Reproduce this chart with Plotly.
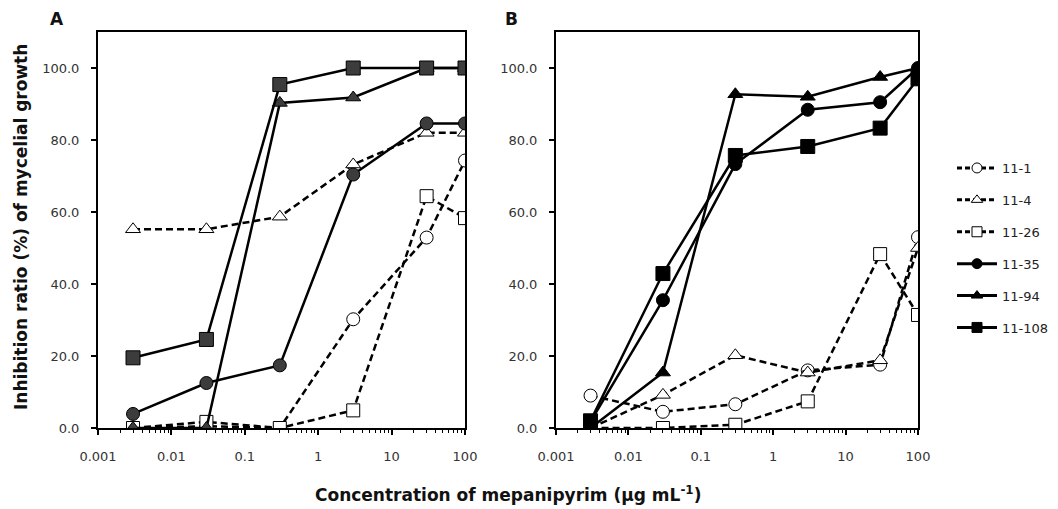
import plotly.graph_objects as go

conc = [0.003, 0.03, 0.3, 3, 30, 100]
names = ["11-1", "11-4", "11-26", "11-35", "11-94", "11-108"]

# Panel A
a_11_1 = [0.0, 0.5, 0.0, 30.2, 52.9, 74.3]
a_11_4 = [55.2, 55.2, 58.7, 73.2, 82.0, 82.0]
a_11_26 = [0.0, 1.7, 0.0, 4.9, 64.4, 58.3]
a_11_35 = [3.9, 12.5, 17.4, 70.4, 84.6, 84.6]
a_11_94 = [0.0, 0.0, 90.3, 91.8, 100.0, 100.0]
a_11_108 = [19.5, 24.6, 95.4, 100.0, 100.0, 100.0]

# Panel B
b_11_1 = [9.0, 4.5, 6.6, 16.0, 17.6, 53.0]
b_11_4 = [0.0, 9.2, 20.2, 15.4, 18.8, 50.0]
b_11_26 = [0.0, 0.0, 0.9, 7.4, 48.3, 31.4]
b_11_35 = [1.8, 35.5, 73.3, 88.4, 90.5, 100.0]
b_11_94 = [0.0, 15.4, 92.7, 92.0, 97.5, 100.0]
b_11_108 = [2.0, 42.9, 75.7, 78.2, 83.3, 97.0]

yticks = [0, 20, 40, 60, 80, 100]
yticktext = ["0.0", "20.0", "40.0", "60.0", "80.0", "100.0"]
xticks = [0.001, 0.01, 0.1, 1, 10, 100]
xticktext = ["0.001", "0.01", "0.1", "1", "10", "100"]

TICKFONT = "DejaVu Sans"
TITLEFONT = "DejaVu Sans"

styles = {
    "11-1": dict(symbol="circle", open=True, dash="7px,4px", size=13),
    "11-4": dict(symbol="triangle-up", open=True, dash="7px,4px", size=13),
    "11-26": dict(symbol="square", open=True, dash="7px,4px", size=13),
    "11-35": dict(symbol="circle", open=False, dash="solid", size=13),
    "11-94": dict(symbol="triangle-up", open=False, dash="solid", size=13),
    "11-108": dict(symbol="square", open=False, dash="solid", size=14),
}

fig = go.Figure()

panelA = [a_11_1, a_11_4, a_11_26, a_11_35, a_11_94, a_11_108]
panelB = [b_11_1, b_11_4, b_11_26, b_11_35, b_11_94, b_11_108]

for name, ys in zip(names, panelA):
    st = styles[name]
    fill = "white" if st["open"] else "#3c3c3c"
    fig.add_trace(go.Scatter(
        x=conc, y=ys, mode="lines+markers", name=name, showlegend=False,
        line=dict(color="black", width=2.5, dash=st["dash"]),
        marker=dict(symbol=st["symbol"], size=st["size"], color=fill,
                    line=dict(color="black", width=1)),
        xaxis="x", yaxis="y", legendgroup=name,
    ))

for name, ys in zip(names, panelB):
    st = styles[name]
    fill = "white" if st["open"] else "black"
    fig.add_trace(go.Scatter(
        x=conc, y=ys, mode="lines+markers", name=name, showlegend=False,
        line=dict(color="black", width=2.5, dash=st["dash"]),
        marker=dict(symbol=st["symbol"], size=st["size"], color=fill,
                    line=dict(color="black", width=1)),
        xaxis="x2", yaxis="y2", legendgroup=name,
    ))

# legend entries (smaller symbols, as in the reference key)
for name in names:
    st = styles[name]
    fill = "white" if st["open"] else "black"
    fig.add_trace(go.Scatter(
        x=[None], y=[None], mode="lines+markers", name=name, showlegend=True,
        line=dict(color="black", width=3, dash="5px,3px" if st["open"] else "solid"),
        marker=dict(symbol=st["symbol"], size=10, color=fill,
                    line=dict(color="black", width=1)),
        xaxis="x2", yaxis="y2", legendgroup=name,
    ))

OFF = 8  # page body margin
W, H = 1058 - OFF, 509 - OFF
L, R, T, B = 98, 918, 32, 428  # plot-area edges in page pixels
PW, PH = R - L, B - T

def px(x):
    return (x - L) / PW

def py(y):
    return (B - y) / PH

def xax(domain, anchor):
    return dict(
        type="log", domain=domain, anchor=anchor, range=[-3, 2.0],
        tickvals=xticks, ticktext=xticktext,
        ticks="outside", ticklen=5, tickwidth=1.5, tickcolor="black",
        showline=True, linecolor="black", linewidth=2, mirror=True,
        showgrid=False, zeroline=False, automargin=False,
        ticklabelstandoff=10,
        minor=dict(ticks="outside", ticklen=3, tickwidth=1, tickcolor="black",
                   dtick="D1", showgrid=False),
        tickfont=dict(family=TICKFONT, size=13, color="#333"),
    )

def yax(anchor):
    return dict(
        domain=[0, 1], anchor=anchor, range=[0, 110],
        tickvals=yticks, ticktext=yticktext,
        ticks="outside", ticklen=5, tickwidth=1.5, tickcolor="black",
        showline=True, linecolor="black", linewidth=2, mirror=True,
        showgrid=False, zeroline=False, automargin=False,
        ticklabelstandoff=9,
        tickfont=dict(family=TICKFONT, size=13, color="#333"),
    )

def ann(text, x, y, size, angle=0):
    return dict(text=text, x=px(x), y=py(y), xref="paper", yref="paper",
                xanchor="center", yanchor="middle", textangle=angle,
                showarrow=False, font=dict(family=TITLEFONT, size=size, color="#111"))

fig.update_layout(
    width=W, height=H,
    margin=dict(l=L - OFF, r=W - (R - OFF), t=T - OFF, b=H - (B - OFF),
                autoexpand=False),
    paper_bgcolor="white", plot_bgcolor="white",
    xaxis=xax([0, px(465)], "y"),
    yaxis=yax("x"),
    xaxis2=xax([px(556), 1], "y2"),
    yaxis2=yax("x2"),
    legend=dict(x=px(952), y=py(153), xanchor="left", yanchor="top",
                font=dict(family=TICKFONT, size=13, color="#222"),
                itemwidth=40, tracegroupgap=12, bgcolor="rgba(0,0,0,0)"),
    font=dict(family=TICKFONT, color="black"),
    annotations=[
        ann("<b>A</b>", 57, 19, 17),
        ann("<b>B</b>", 511, 19, 17),
        ann("<b>Inhibition ratio (%) of mycelial growth</b>", 21, 227, 17, -90),
        ann("<b>Concentration of mepanipyrim (μg mL<sup>-1</sup>)</b>", 508, 494, 17),
    ],
)

fig.write_html("out.html")
